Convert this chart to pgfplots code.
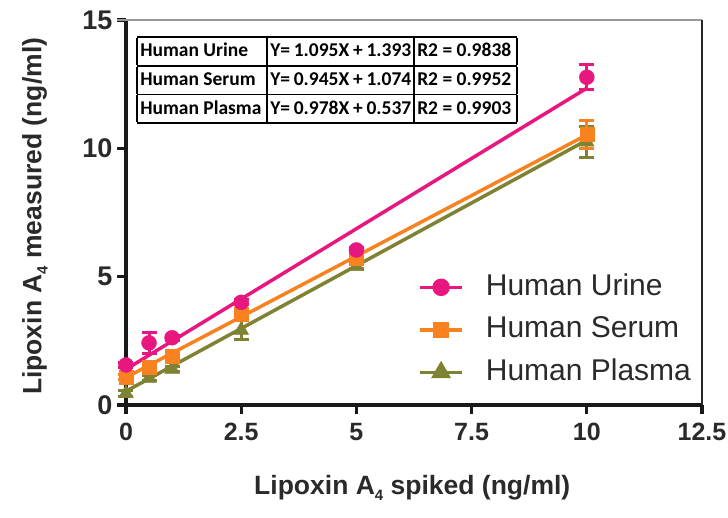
\documentclass[border=0pt]{standalone}
\usepackage{pgfplots}
\pgfplotsset{compat=1.18}
\usepackage{fontspec}
\setmainfont{Liberation Sans}
\newfontfamily\calibri{Carlito}
\definecolor{pinkc}{HTML}{E8177F}
\definecolor{orangec}{HTML}{F7821F}
\definecolor{olivec}{HTML}{7F8133}
\definecolor{txt}{HTML}{2A2A2A}
\newcommand{\subfour}{\raisebox{-0.45ex}{\fontsize{15}{15}\selectfont 4}}
\begin{document}
\begin{tikzpicture}
\path[use as bounding box] (-126pt,-112pt) rectangle (602pt,405pt);
\begin{axis}[
  at={(0,0)}, anchor=south west,
  scale only axis, width=576pt, height=385pt,
  xmin=0, xmax=12.5, ymin=0, ymax=15,
  clip=false,
  axis x line*=bottom, axis y line*=left,
  axis line style={line width=3.2pt, black!90},
  /pgf/number format/assume math mode=true,
  xtick={0,2.5,5,7.5,10,12.5},
  xticklabels={0,2.5,5,7.5,10,12.5},
  ytick={0,5,10,15},
  yticklabels={0,5,10,15},
  tick align=outside,
  major tick length=9pt,
  tick style={line width=3.2pt, black!90},
  ticklabel style={font=\fontsize{25}{25}\selectfont\bfseries, text=txt},
  yticklabel style={font=\fontsize{27}{27}\selectfont\bfseries, xshift=-1pt},
  xticklabel style={yshift=-6pt},
  xlabel={Lipoxin A\subfour\ spiked (ng/ml)},
  ylabel={Lipoxin A\subfour\ measured (ng/ml)},
  label style={font=\fontsize{26.5}{26.5}\selectfont\bfseries, text=txt},
  xlabel style={at={(axis description cs:0.497,-0.216)}, anchor=center},
  ylabel style={at={(axis description cs:-0.158,0.49)}, anchor=center, rotate=0},
  legend cell align=left,
  legend image code/.code={\draw[mark repeat=2,mark phase=2,#1] plot coordinates {(0pt,0pt)(21pt,0pt)(42pt,0pt)};},
  legend style={draw=none, fill=none, at={(axis description cs:0.502,0.353)}, anchor=north west,
    font=\fontsize{30}{30}\selectfont, text=txt, row sep=10.5pt,
    nodes={inner sep=2pt, text depth=6pt, text height=22pt},
    /tikz/every odd column/.append style={column sep=20pt}},
  error bars/error bar style={line width=3pt},
  error bars/error mark options={rotate=90, mark size=7.5pt, line width=3pt},
]
% frame
\draw[gray!80, line width=1.2pt] (axis cs:-0.2,15) -- (axis cs:12.5,15);
\draw[black!85, line width=2.4pt] (axis cs:12.5,15) -- (axis cs:12.5,0);
% legend images
\addlegendimage{pinkc, line width=3.5pt, mark=*, mark size=7pt, mark options={solid}}
\addlegendentry{Human Urine}
\addlegendimage{orangec, line width=3.5pt, mark=square*, mark size=6.5pt}
\addlegendentry{Human Serum}
\addlegendimage{olivec, line width=3.5pt, mark=triangle*, mark size=8pt}
\addlegendentry{Human Plasma}
% regression lines
\addplot[pinkc, line width=3.5pt, forget plot] coordinates {(0,1.393) (10,12.343)};
\addplot[orangec, line width=3.5pt, forget plot] coordinates {(0,1.074) (10,10.524)};
\addplot[olivec, line width=3.5pt, forget plot] coordinates {(0,0.537) (10,10.317)};
% plasma
\addplot[olivec, only marks, mark=triangle*, mark size=8.5pt, forget plot,
  error bars/.cd, y dir=both, y explicit] coordinates {
  (0,0.45) +- (0,0.1)
  (0.5,1.05) +- (0,0.1)
  (1,1.40) +- (0,0.1)
  (2.5,2.92) +- (0,0.38)
  (5,5.40) +- (0,0.1)
  (10,10.25) +- (0,0.6)
};
% serum
\addplot[orangec, only marks, mark=square*, mark size=7pt, forget plot,
  error bars/.cd, y dir=both, y explicit] coordinates {
  (0,1.10) +- (0,0.1)
  (0.5,1.49) +- (0,0.1)
  (1,1.91) +- (0,0.1)
  (2.5,3.54) +- (0,0.1)
  (5,5.71) +- (0,0.1)
  (10,10.55) +- (0,0.55)
};
% urine
\addplot[pinkc, only marks, mark=*, mark size=7.5pt, forget plot,
  error bars/.cd, y dir=both, y explicit] coordinates {
  (0,1.56) +- (0,0.1)
  (0.5,2.42) +- (0,0.42)
  (1,2.62) +- (0,0.1)
  (2.5,4.00) +- (0,0.1)
  (5,6.04) +- (0,0.1)
  (10,12.77) +- (0,0.48)
};
% equation table
\setlength{\arrayrulewidth}{1.6pt}
\setlength{\tabcolsep}{3pt}
\node[anchor=north west, inner sep=0pt] at (axis cs:0.24,14.37) {%
  \calibri\bfseries\fontsize{19.5}{27}\selectfont
  \begin{tabular}{|p{124pt}|p{141pt}|p{97pt}|}\hline
  Human Urine & Y= 1.095X + 1.393 & R2 = 0.9838\\\hline
  Human Serum & Y= 0.945X + 1.074 & R2 = 0.9952\\\hline
  Human Plasma & Y= 0.978X + 0.537 & R2 = 0.9903\\\hline
  \end{tabular}};
\end{axis}
\end{tikzpicture}
\end{document}
